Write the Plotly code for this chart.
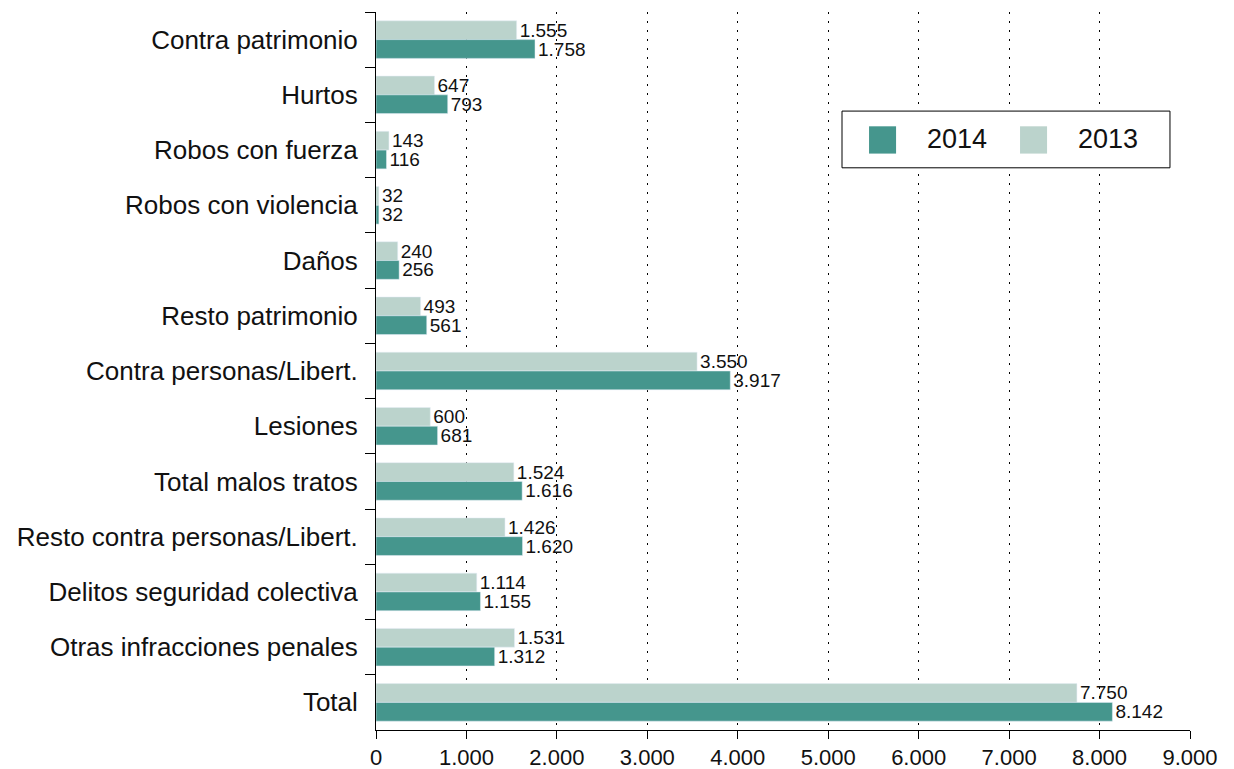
import plotly.graph_objects as go

categorias = ['Contra patrimonio', 'Hurtos', 'Robos con fuerza', 'Robos con violencia',
              'Daños', 'Resto patrimonio', 'Contra personas/Libert.', 'Lesiones',
              'Total malos tratos', 'Resto contra personas/Libert.',
              'Delitos seguridad colectiva', 'Otras infracciones penales', 'Total']
valores_2013 = [1555, 647, 143, 32, 240, 493, 3550, 600, 1524, 1426, 1114, 1531, 7750]
valores_2014 = [1758, 793, 116, 32, 256, 561, 3917, 681, 1616, 1620, 1155, 1312, 8142]
ticks_x = [0, 1000, 2000, 3000, 4000, 5000, 6000, 7000, 8000, 9000]

color_2013 = '#BBD3CC'
color_2014 = '#45968D'


def fmt(v):
    return f"{v:,}".replace(",", ".")


fig = go.Figure()
fig.add_trace(go.Bar(y=categorias, x=valores_2013, name='2013', orientation='h',
                     marker=dict(color=color_2013), showlegend=False,
                     text=[fmt(v) for v in valores_2013], textposition='outside',
                     constraintext='none',
                     textfont=dict(size=19, color='#111'), cliponaxis=False))
fig.add_trace(go.Bar(y=categorias, x=valores_2014, name='2014', orientation='h',
                     marker=dict(color=color_2014), showlegend=False,
                     text=[fmt(v) for v in valores_2014], textposition='outside',
                     constraintext='none',
                     textfont=dict(size=19, color='#111'), cliponaxis=False))

# leyenda dibujada a mano (recuadro con cuadrados grandes)
fig.add_shape(type='rect', xref='paper', yref='paper', x0=0.5725, x1=0.9754,
              y0=0.783, y1=0.862, line=dict(color='black', width=1), fillcolor='white',
              layer='above')
for nombre, color, xs in [('2014', color_2014, 0.6057), ('2013', color_2013, 0.7912)]:
    fig.add_shape(type='rect', xref='paper', yref='paper', x0=xs, x1=xs + 0.0332,
                  y0=0.8028, y1=0.8408, line=dict(width=0), fillcolor=color, layer='above')
    fig.add_annotation(text=nombre, xref='paper', yref='paper', x=xs + 0.0687, y=0.8225,
                       xanchor='left', yanchor='middle', showarrow=False,
                       font=dict(size=27, color='#111'))

fig.update_layout(
    width=1234, height=769,
    margin=dict(l=368, r=52, t=4, b=47),
    paper_bgcolor='white', plot_bgcolor='white',
    font=dict(family='Liberation Sans, Arial, sans-serif', color='#111'),
    separators=',.',
    barmode='group', bargap=0.32, bargroupgap=0,
    showlegend=False,
    xaxis=dict(range=[0, 9000], tickvals=ticks_x, tickformat=',d',
               showgrid=True, gridcolor='black', griddash='2px,7px', gridwidth=1,
               showline=True, linecolor='black', linewidth=1, zeroline=False,
               ticks='outside', ticklen=8, tickcolor='black', ticklabelstandoff=0,
               tickfont=dict(size=22)),
    yaxis=dict(categoryorder='array', categoryarray=categorias, autorange='reversed',
               showline=True, linecolor='black', linewidth=1,
               ticks='outside', tickson='boundaries', ticklen=10, tickcolor='black',
               ticklabelstandoff=12, tickfont=dict(size=26), showgrid=False),
)

fig.write_html("out.html")
